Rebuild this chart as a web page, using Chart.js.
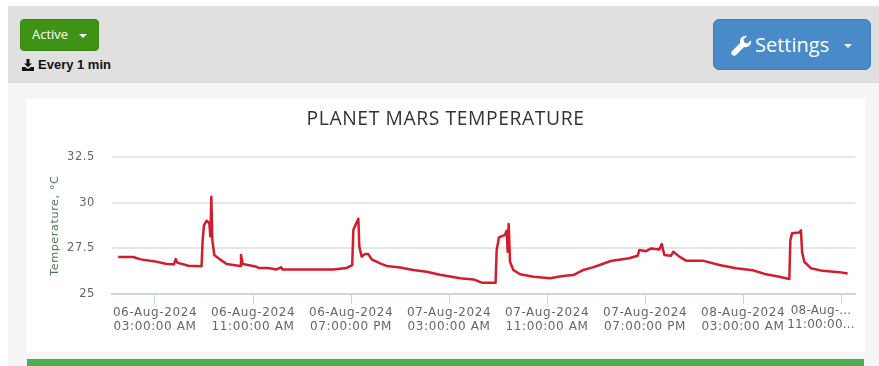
<!DOCTYPE html>
<html>
<head>
<meta charset="utf-8">
<title>Planet Mars temperature</title>
<script src="https://cdn.jsdelivr.net/npm/chart.js@4/dist/chart.umd.min.js"></script>
<style>
  html, body { margin: 0; padding: 0; background: #fff; overflow: hidden; }
  #page { position: relative; width: 879px; height: 366px; overflow: hidden; font-family: "Open Sans", sans-serif; }
  #body-bg { position: absolute; left: 8px; top: 82px; right: 0; bottom: 0; background: #f5f5f5; }
  #band { position: absolute; left: 8px; top: 6px; right: 0; height: 76px; background: #e0e0e0; border-bottom: 1px solid #d9d9d9; }
  .btn { position: absolute; box-sizing: border-box; color: #fff; white-space: nowrap; }
  #active { left: 20px; top: 19px; width: 79px; height: 32px; background: #3f9314; border: 1px solid #398510; border-radius: 4px; font-size: 13px; line-height: 29px; padding-left: 11px; }
  #settings { left: 713px; top: 19px; width: 158px; height: 51px; background: #488bc8; border: 1px solid #3f7fbb; border-radius: 6px; font-size: 20px; line-height: 49px; padding-left: 41px; }
  .caret { position: absolute; width: 0; height: 0; border-left: 4px solid transparent; border-right: 4px solid transparent; border-top: 4px solid #fff; }
  #active .caret { left: 58px; top: 14px; }
  #settings .caret { left: 130px; top: 24px; }
  #settings svg { position: absolute; left: 17px; top: 15px; }
  #every { position: absolute; left: 38px; top: 58px; font: bold 13px/14px "Liberation Sans", sans-serif; color: #111; }
  #dl { position: absolute; left: 22px; top: 59px; }
  #card { position: absolute; left: 26px; top: 99px; width: 839px; height: 253px; background: #fff; }
  #green { position: absolute; left: 27px; top: 359px; width: 837px; height: 7px; background: #4cae4f; }
</style>
</head>
<body>
<div id="page">
  <div id="body-bg"></div>
  <div id="band"></div>
  <div class="btn" id="active">Active<span class="caret"></span></div>
  <svg id="dl" width="12" height="12" viewBox="0 0 12 12"><path d="M4.5 0h3v4.5H10L6 8.2 2 4.5h2.5zM0 8h3l3 2 3-2h3v4H0z" fill="#111"/></svg>
  <div id="every">Every 1 min</div>
  <div class="btn" id="settings">
    <svg width="21" height="21" viewBox="0 0 21 21"><path d="M20 5.2c.5 2.2-.2 4.4-2 5.8-1.4 1.1-3.2 1.4-4.9.9L5 20c-1.1 1.1-2.8 1.1-3.9 0s-1.1-2.8 0-3.9l8.1-8.1c-.5-1.7-.2-3.5.9-4.9C11.500 1.200 13.700.500 15.900 1l-3.400 3.400.8 3.200 3.200.8z" fill="#fff"/></svg>
    Settings<span class="caret"></span>
  </div>
  <div id="card"><canvas id="chart" width="839" height="253"></canvas></div>
  <div id="green"></div>
</div>
<script>
  // hours since 06-Aug-2024 00:00
  const hours = [0, 1.23, 1.83, 3, 3.95, 4.55, 4.69, 4.82, 5.72, 6.8, 6.89, 7, 7.22, 7.44, 7.52, 7.6, 7.68, 7.84, 8.3, 8.85, 9.94, 10.02, 10.16, 11.3, 11.44, 12.25, 12.93, 13.3, 13.4, 14.3, 16.47, 17.56, 18.65, 19.1, 19.19, 19.33, 19.6, 19.68, 19.87, 20.14, 20.41, 20.69, 21.37, 21.9, 23, 24.09, 25.18, 26.27, 27.9, 29, 29.67, 30.8, 30.89, 31.08, 31.57, 31.7, 31.79, 31.87, 31.98, 32.25, 32.8, 33.9, 35.25, 36.3, 37.15, 37.97, 38.73, 39.3, 40.2, 41.7, 42.4, 42.54, 43.08, 43.5, 44.17, 44.36, 44.58, 45.12, 45.31, 45.8, 46.35, 47.7, 49.07, 50.43, 51.8, 52.88, 53.97, 54.78, 54.86, 55, 55.6, 55.73, 55.82, 56, 56.55, 57.5, 58.86, 59.54];
  const temps = [27.03, 27.03, 26.9, 26.79, 26.65, 26.63, 26.92, 26.72, 26.55, 26.52, 27.96, 28.78, 29.02, 28.88, 28.15, 30.34, 27.96, 27.14, 26.9, 26.65, 26.54, 27.14, 26.65, 26.5, 26.43, 26.43, 26.35, 26.46, 26.35, 26.35, 26.35, 26.35, 26.43, 26.59, 28.51, 28.73, 29.13, 27.6, 27.05, 27.19, 27.19, 26.9, 26.68, 26.54, 26.46, 26.32, 26.22, 26.06, 25.86, 25.8, 25.62, 25.62, 27.41, 28.11, 28.25, 28.47, 27.32, 28.84, 26.77, 26.32, 26.08, 25.95, 25.86, 25.99, 26.04, 26.32, 26.46, 26.59, 26.81, 26.96, 27.1, 27.41, 27.35, 27.5, 27.44, 27.74, 27.14, 27.1, 27.32, 27.05, 26.83, 26.83, 26.59, 26.41, 26.3, 26.08, 25.95, 25.82, 27.95, 28.33, 28.38, 28.5, 27.3, 26.77, 26.41, 26.27, 26.2, 26.13];

  const tickHours = [3, 11, 19, 27, 35, 43, 51, 59];
  const tickDates = ["06-Aug-2024", "06-Aug-2024", "06-Aug-2024", "07-Aug-2024", "07-Aug-2024", "07-Aug-2024", "08-Aug-2024", "08-Aug-..."];
  const tickTimes = ["03:00:00 AM", "11:00:00 AM", "07:00:00 PM", "03:00:00 AM", "11:00:00 AM", "07:00:00 PM", "03:00:00 AM", "11:00:00..."];

  const tickFont = { family: "'DejaVu Sans', sans-serif", size: 12, lineHeight: 14 / 12 };

  // original text is set a bit wider than the installed fonts
  const wideText = {
    id: "wideText",
    beforeDraw(chart) { chart.ctx.letterSpacing = "0.6px"; },
  };

  // last label is pushed left and cut short, as in the original
  const lastLabel = {
    id: "lastLabel",
    afterDraw(chart) {
      const x = chart.scales.x, ctx = chart.ctx, i = tickHours.length - 1;
      ctx.save();
      ctx.font = "12px 'DejaVu Sans', sans-serif";
      ctx.letterSpacing = "0.2px";
      ctx.fillStyle = "#666";
      ctx.textAlign = "center";
      ctx.textBaseline = "middle";
      const px = x.getPixelForValue(tickHours[i]) - 20;
      ctx.fillText(tickDates[i], px, 212);
      ctx.fillText(tickTimes[i], px, 226);
      ctx.restore();
    },
  };

  new Chart(document.getElementById("chart"), {
    type: "line",
    plugins: [wideText, lastLabel],
    data: {
      datasets: [{
        data: hours.map((h, i) => ({ x: h, y: temps[i] })),
        borderColor: "#d41c2c",
        borderWidth: 2.5,
        borderJoinStyle: "round",
        pointRadius: 0,
        tension: 0,
      }],
    },
    options: {
      responsive: false,
      animation: false,
      layout: { padding: { left: 10, right: 10 } },
      plugins: {
        legend: { display: false },
        tooltip: { enabled: false },
        title: {
          display: true,
          text: "PLANET MARS TEMPERATURE",
          color: "#333",
          font: { family: "'Open Sans', sans-serif", size: 19.3, weight: "normal", lineHeight: 1.2 },
          padding: { top: 9, bottom: 26.2 },
        },
      },
      scales: {
        x: {
          type: "linear",
          min: -0.51,
          max: 60.14,
          afterBuildTicks: (s) => { s.ticks = tickHours.map((v) => ({ value: v })); },
          afterFit: (s) => { s.height = 58; },
          border: { color: "#ccd6eb", width: 2 },
          grid: { drawOnChartArea: false, tickLength: 10, tickColor: "#ccd6eb", tickWidth: 1 },
          ticks: {
            autoSkip: false,
            maxRotation: 0,
            color: "#666",
            font: tickFont,
            padding: 2,
            callback: (v, i) => (i === tickHours.length - 1 ? "" : [tickDates[i], tickTimes[i]]),
          },
        },
        y: {
          min: 25,
          max: 32.5,
          afterFit: (s) => { s.width = 76; },
          border: { display: false },
          grid: { color: "#e6e6e6", lineWidth: 2, drawTicks: false },
          ticks: {
            stepSize: 2.5,
            color: "#666",
            padding: 17,
            font: { family: "'DejaVu Sans', sans-serif", size: 11.5 },
            callback: (v) => String(v),
          },
          title: {
            display: true,
            text: "Temperature, °C",
            color: "#4f7554",
            font: { family: "'DejaVu Sans', sans-serif", size: 11.2 },
            padding: { top: 12, bottom: 0 },
          },
        },
      },
    },
  });
</script>
</body>
</html>
